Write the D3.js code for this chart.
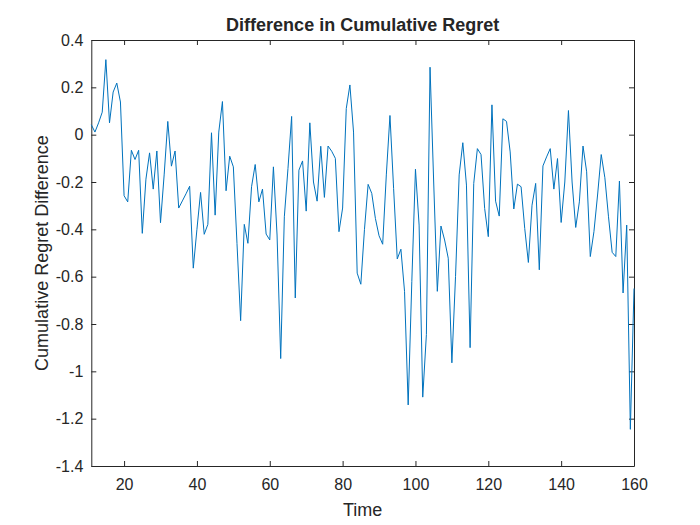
<!DOCTYPE html>
<html><head><meta charset="utf-8">
<script src="https://cdn.jsdelivr.net/npm/d3@7"></script>
<style>body{margin:0;background:#fff}svg{display:block}text{font-family:"Liberation Sans",Arial,Helvetica,sans-serif;fill:#262626}</style>
</head><body>
<script>
const startTime = 11;
const regretDiff = [
 0.042,0.011,0.05,0.095,0.317,0.05,0.18,0.218,0.138,-0.258,
 -0.284,-0.066,-0.105,-0.066,-0.417,-0.188,-0.077,-0.23,-0.069,-0.372,
 -0.17,0.056,-0.133,-0.069,-0.31,-0.28,-0.25,-0.218,-0.564,-0.40,
 -0.244,-0.421,-0.379,0.008,-0.34,0.011,0.14,-0.237,-0.091,-0.136,
 -0.46,-0.786,-0.379,-0.459,-0.22,-0.126,-0.284,-0.23,-0.42,-0.445,
 -0.136,-0.424,-0.946,-0.347,-0.143,0.077,-0.69,-0.15,-0.111,-0.323,
 0.05,-0.2,-0.281,-0.049,-0.265,-0.048,-0.07,-0.1,-0.41,-0.31,
 0.11,0.21,0.011,-0.585,-0.632,-0.40,-0.21,-0.248,-0.354,-0.427,
 -0.463,-0.17,0.081,-0.227,-0.525,-0.484,-0.662,-1.142,-0.62,-0.146,
 -0.382,-1.109,-0.845,0.285,-0.2,-0.662,-0.386,-0.445,-0.522,-0.964,
 -0.6,-0.17,-0.034,-0.213,-0.9,-0.206,-0.059,-0.084,-0.312,-0.431,
 0.126,-0.281,-0.344,0.067,0.056,-0.073,-0.314,-0.209,-0.22,-0.396,
 -0.54,-0.298,-0.206,-0.571,-0.132,-0.094,-0.059,-0.23,-0.101,-0.371,
 -0.2,0.102,-0.2,-0.392,-0.284,-0.048,-0.157,-0.515,-0.41,-0.255,
 -0.084,-0.182,-0.347,-0.497,-0.515,-0.196,-0.669,-0.382,-1.245,-0.65
];
const xTicks = [20,40,60,80,100,120,140,160];
const yTicks = [0.4,0.2,0,-0.2,-0.4,-0.6,-0.8,-1,-1.2,-1.4];
const titleText = "Difference in Cumulative Regret";
const xLabel = "Time";
const yLabel = "Cumulative Regret Difference";

const W=700,H=525, L=91.3, R=634, T=40, B=466;
const svg = d3.select("body").append("svg").attr("width",W).attr("height",H);
const data = regretDiff.map((v,i)=>({t:startTime+i, v}));
const x = d3.scaleLinear().domain([11,160]).range([L,R]);
const y = d3.scaleLinear().domain([-1.4,0.4]).range([B,T]);
const ax="#262626";
const fmt = d=> d===0?"0":String(d);

const gB = svg.append("g").attr("transform",`translate(0,${B})`)
 .call(d3.axisBottom(x).tickValues(xTicks).tickSizeInner(-5).tickSizeOuter(0).tickPadding(13).tickFormat(d3.format("d")));
const gT = svg.append("g").attr("transform",`translate(0,${T})`)
 .call(d3.axisTop(x).tickValues(xTicks).tickSizeInner(-5).tickSizeOuter(0).tickFormat(""));
const gL = svg.append("g").attr("transform",`translate(${L},0)`)
 .call(d3.axisLeft(y).tickValues(yTicks).tickSizeInner(-5).tickSizeOuter(0).tickPadding(8).tickFormat(fmt));
const gR = svg.append("g").attr("transform",`translate(${R},0)`)
 .call(d3.axisRight(y).tickValues(yTicks).tickSizeInner(-5).tickSizeOuter(0).tickFormat(""));
[gB,gT,gL,gR].forEach(g=>{
  g.selectAll("path.domain").attr("stroke",ax).attr("stroke-width",1);
  g.selectAll(".tick line").attr("stroke",ax).attr("stroke-width",1);
  g.selectAll(".tick text").attr("fill",ax).style("font-size","16px").style("font-family",'"Liberation Sans",Arial,sans-serif');
});

svg.append("path").datum(data)
 .attr("fill","none").attr("stroke","#0072BD").attr("stroke-width",1)
 .attr("stroke-linejoin","round")
 .attr("d", d3.line().x(d=>x(d.t)).y(d=>y(d.v)));

svg.append("text").attr("x",(L+R)/2).attr("y",31).attr("text-anchor","middle")
 .style("font-size","18px").style("font-weight","bold").text(titleText);
svg.append("text").attr("x",(L+R)/2).attr("y",516).attr("text-anchor","middle")
 .style("font-size","18px").text(xLabel);
svg.append("text").attr("transform",`translate(48,${(T+B)/2}) rotate(-90)`).attr("text-anchor","middle")
 .style("font-size","18px").text(yLabel);
</script>
</body></html>
